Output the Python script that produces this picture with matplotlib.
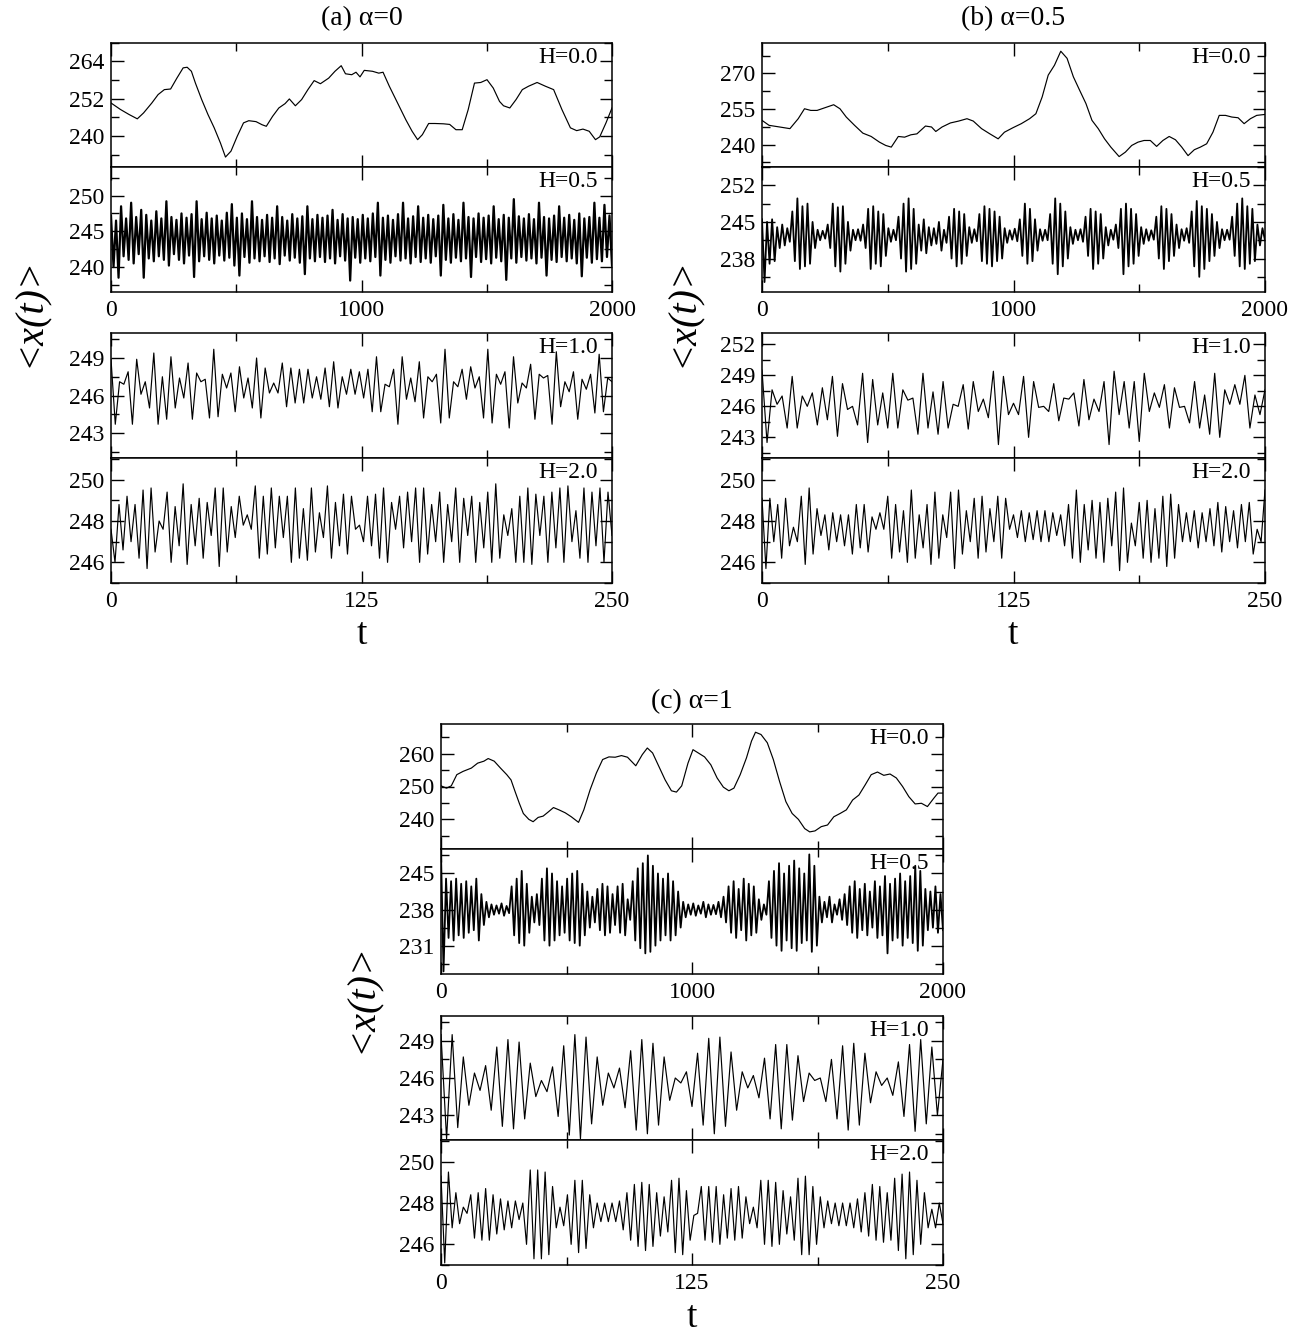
import numpy as np
import matplotlib
matplotlib.use("Agg")
import matplotlib.pyplot as plt
from matplotlib.ticker import MultipleLocator

plt.rcParams['font.family'] = ['Liberation Serif', 'DejaVu Serif']

# ---------------- data ----------------
# H = 0.0 panels, long time window 0..2000
A_H0_t = [0,38,72,105,130,163,188,213,238,263,288,304,321,337,362,387,412,437,457,479,504,529,550,579,603,620,645,670,695,712,736,761,786,811,836,869,894,919,936,961,978,994,1011,1044,1069,1086,1111,1144,1177,1202,1224,1243,1268,1293,1327,1352,1377,1402,1426,1451,1476,1501,1526,1551,1567,1592,1617,1642,1667,1701,1734,1767,1800,1834,1859,1884,1909,1934,1951,1976,2000]
A_H0_v = [250.6,248.5,246.9,245.5,247.4,250.6,253.3,254.9,255.1,258.6,261.9,262.1,260.8,257.0,251.7,246.9,242.6,237.7,233.2,235.1,239.9,244.2,244.9,244.6,243.6,243.1,246.3,249.0,250.4,251.9,249.7,251.7,254.9,257.8,256.8,258.6,260.8,262.6,260.0,259.7,260.5,259.0,261.1,260.8,260.2,260.5,256.0,250.6,245.2,241.5,238.8,240.4,244.0,244.0,243.9,243.7,242.0,242.0,248.5,257.0,257.2,258.1,255.4,251.1,249.7,249.0,251.7,254.9,256.0,257.2,256.0,254.9,248.5,242.6,241.7,242.2,241.5,238.8,239.7,244.2,249.0]

B_H0_t = [0,28,70,111,144,169,194,219,252,285,310,335,368,401,434,467,492,514,542,567,592,616,650,674,691,716,749,782,815,840,873,906,939,964,998,1031,1064,1089,1114,1138,1163,1188,1213,1238,1263,1288,1312,1337,1362,1387,1420,1445,1470,1495,1519,1544,1569,1594,1619,1644,1669,1694,1719,1743,1768,1793,1818,1843,1868,1893,1917,1942,1967,2000]
B_H0_v = [250.2,248.1,247.4,246.7,250.9,255.1,254.4,254.4,255.6,256.8,255.1,251.6,248.1,244.8,243.4,241.0,239.6,238.9,243.4,243.1,244.1,244.5,247.8,247.4,245.5,247.4,249.1,249.9,250.9,249.9,246.7,244.5,242.4,245.2,247.1,248.8,250.9,253.0,260.1,269.3,273.5,279.4,276.4,268.6,262.9,257.3,250.2,246.7,242.4,238.9,234.9,236.8,239.6,241.0,241.7,241.7,239.2,241.7,243.4,242.0,238.9,235.3,237.8,238.9,240.3,245.2,252.3,252.3,251.6,251.3,248.8,250.9,252.3,252.7]

C_H0_t = [0,22,41,63,88,121,146,171,188,212,237,262,279,295,312,328,350,367,387,407,428,448,470,495,519,548,569,594,619,644,669,694,719,743,776,802,822,843,868,893,918,938,959,984,1004,1025,1050,1075,1100,1125,1147,1167,1192,1217,1237,1253,1275,1300,1324,1349,1374,1399,1424,1449,1469,1490,1515,1540,1565,1590,1615,1640,1665,1690,1714,1739,1764,1789,1814,1839,1864,1889,1914,1938,1963,1980,2000]
C_H0_v = [250.2,249.5,250.2,253.6,254.6,255.6,257.1,257.7,258.5,257.7,255.6,253.6,252.0,248.5,244.9,241.8,240.0,239.3,240.6,241.0,242.3,243.6,242.9,242.0,240.8,239.1,242.9,249.0,254.1,258.2,259.0,258.9,259.4,258.9,256.3,259.7,261.7,260.2,256.1,252.0,248.7,248.3,250.2,257.1,261.2,260.2,259.0,256.6,252.6,249.8,248.7,249.5,253.6,258.7,263.8,266.5,265.8,263.3,258.2,251.5,245.4,241.8,240.0,237.2,236.2,236.5,237.8,238.3,240.8,241.8,242.9,245.9,247.4,250.5,253.6,254.4,253.4,253.8,252.6,250.0,246.9,244.7,244.9,243.9,246.4,248.0,248.0]

# H = 0.5 panels (successive extremes, 0..2000)
A_H05_v = [247.2,240.0,246.5,238.5,248.5,241.5,246.8,241.0,249.0,240.5,247.0,241.8,248.0,238.5,247.3,241.2,246.5,240.8,247.8,241.5,
           246.8,241.0,249.2,240.2,247.0,241.8,246.6,241.0,247.5,240.5,246.9,241.6,247.4,238.6,249.2,240.8,246.7,241.5,247.6,241.0,
           246.8,240.5,247.2,241.6,246.5,240.9,247.6,241.3,248.8,240.2,246.9,238.8,247.5,241.4,246.7,240.6,249.2,241.2,247.0,240.8,
           246.6,241.5,247.3,240.7,246.9,241.2,248.5,240.4,247.0,241.6,246.5,240.9,247.4,241.3,246.8,240.6,247.1,239.0,248.5,241.2,
           246.7,240.8,247.3,241.4,246.9,240.7,247.2,241.2,248.0,240.5,246.6,241.5,247.4,240.9,246.8,238.1,247.0,241.3,246.7,240.6,
           247.3,241.2,246.8,240.8,247.5,241.4,249.0,238.8,246.9,241.0,247.2,240.6,246.6,241.5,247.4,240.9,249.0,241.2,246.8,240.5,
           247.1,241.4,248.5,240.7,246.9,241.2,247.3,240.6,246.7,241.5,247.2,238.8,248.7,241.0,246.8,240.6,247.4,241.3,246.6,240.8,
           249.0,241.2,247.0,238.6,246.8,241.4,247.5,240.7,246.9,241.1,247.2,240.5,248.5,241.3,246.7,240.8,247.3,238.2,246.9,241.2,
           249.5,240.6,247.1,241.4,246.8,240.9,247.4,241.2,246.7,240.5,249.0,241.3,247.0,238.8,246.8,241.0,247.2,240.7,248.5,241.4,
           246.9,240.8,247.3,241.2,246.6,240.5,247.5,238.7,246.8,241.3,247.0,240.6,249.0,241.1,246.9,240.8,248.7,241.4,247.2,240.2]
B_H05_v = [245.5,233.5,245.0,237.0,245.5,237.5,244.0,240.0,244.5,240.5,243.8,241.2,247.0,237.5,249.5,236.0,248.0,236.5,248.5,237.0,
           245.0,240.0,243.5,241.5,243.3,241.8,244.5,240.0,248.5,236.5,247.8,235.5,248.0,237.0,245.0,239.5,243.5,241.5,243.6,241.4,
           244.5,240.0,247.5,236.0,248.0,237.0,247.0,236.5,246.5,238.5,243.8,241.2,243.5,241.5,246.0,238.0,248.5,235.5,249.5,236.0,
           247.5,237.0,244.5,239.5,245.5,239.0,244.0,240.5,243.8,240.8,245.0,239.5,243.5,241.0,246.0,238.0,247.5,236.5,247.0,237.0,
           246.5,238.5,244.0,241.0,243.6,241.3,246.5,237.5,248.0,237.0,247.5,236.5,247.0,237.5,246.0,238.0,243.8,241.0,243.4,241.6,
           243.7,241.3,245.5,238.5,248.5,237.0,247.5,237.5,245.5,239.5,243.6,241.4,243.5,241.5,246.5,237.0,249.5,235.0,248.5,236.5,
           247.0,238.0,244.0,240.8,243.5,241.5,243.6,241.2,246.0,238.5,247.5,236.0,247.0,237.0,246.5,238.0,244.0,240.5,243.5,241.6,
           244.5,240.0,247.5,235.0,248.5,236.5,247.5,237.0,246.5,238.5,244.0,240.8,243.6,241.4,243.4,241.6,246.0,238.0,248.0,236.0,
           247.5,237.5,246.5,238.5,244.5,240.0,243.6,241.4,243.8,241.0,247.0,236.5,249.0,234.5,248.0,236.0,247.5,237.5,246.5,238.5,
           245.0,240.0,243.6,241.5,243.5,241.6,246.0,238.5,248.5,236.5,249.5,236.0,248.0,237.0,247.5,237.5,244.5,240.5,243.8,241.5]
C_H05_v = [249.0,226.0,244.0,232.5,243.5,232.0,244.0,233.0,243.0,232.5,243.5,233.5,242.5,234.0,244.0,232.0,241.0,235.0,239.5,236.5,
           239.0,237.0,238.8,237.2,239.2,236.8,238.7,237.3,242.5,233.0,244.0,231.5,245.5,231.0,243.0,233.5,240.5,235.5,241.0,235.0,
           244.0,232.0,246.0,231.0,245.0,232.0,243.5,233.0,242.5,233.5,244.0,232.0,245.0,231.5,245.5,231.0,243.0,233.0,241.5,234.5,
           240.5,235.5,242.0,234.0,243.0,233.0,242.5,233.5,241.0,235.0,242.5,233.5,243.0,233.0,240.0,236.0,243.5,232.0,246.0,230.5,
           247.0,229.5,248.5,229.8,246.5,231.0,245.0,232.0,244.0,233.0,245.0,232.0,243.5,233.0,241.5,234.5,239.5,236.5,239.0,237.0,
           239.2,236.8,238.8,237.2,239.5,236.5,239.0,237.0,238.9,237.1,239.5,236.5,240.5,235.5,242.5,233.5,243.5,232.5,242.0,234.0,
           244.0,232.0,243.0,233.0,242.5,233.5,240.0,236.0,239.0,237.0,243.5,232.5,245.5,231.0,247.0,230.0,245.0,232.0,246.5,230.5,
           247.5,230.0,246.0,231.5,245.0,232.0,248.7,229.8,246.5,231.0,240.5,235.5,239.5,236.5,240.5,235.5,239.0,237.0,240.0,236.0,
           241.0,235.0,242.5,233.5,243.5,232.5,242.0,234.0,243.0,233.0,241.5,234.5,243.5,232.5,242.5,233.0,244.5,229.5,243.0,232.0,
           244.0,232.5,245.0,231.0,243.5,232.5,244.5,231.5,246.5,230.0,245.5,231.0,242.0,234.0,241.5,234.5,242.5,233.5,241.0,234.0]

# H = 1.0 panels (successive extremes, 0..250)
A_H1_v = [248.9,243.7,247.1,246.9,247.9,243.7,248.9,246.1,247.1,245.0,249.4,243.7,247.5,244.1,249.1,245.0,247.4,245.8,248.6,244.1,
          247.8,247.1,247.3,244.2,249.7,244.3,247.7,246.6,247.8,244.7,248.3,245.8,247.4,245.0,249.0,244.2,248.2,246.2,247.0,246.2,
          248.6,245.1,248.2,245.4,248.1,245.4,248.1,245.8,247.5,245.7,248.2,245.1,248.7,245.0,247.5,246.1,248.1,246.1,247.9,
          245.8,248.1,244.7,249.1,244.7,246.9,246.7,248.1,243.7,249.1,245.7,247.4,245.5,248.7,244.2,247.5,247.1,247.7,243.8,249.7,
          244.2,247.1,246.7,248.1,245.7,248.3,246.6,247.5,244.2,249.7,243.8,247.7,246.9,247.9,243.4,249.1,245.4,247.0,246.6,248.5,
          244.1,247.7,247.4,247.6,243.7,249.5,245.1,247.1,246.3,247.9,244.1,247.3,246.5,247.7,244.6,249.3,244.7,247.4,247.1]
B_H1_v = [249.5,242.5,247.6,246.2,247.0,243.9,248.9,243.9,247.0,246.0,247.3,244.2,247.8,244.7,248.9,243.1,248.2,245.7,246.0,244.2,
          249.2,242.5,248.6,244.2,247.3,243.9,249.2,243.9,247.6,246.6,246.8,243.3,249.2,243.9,247.4,243.3,248.4,243.9,246.2,246.0,
          248.1,243.8,248.4,245.5,246.7,244.9,249.4,242.3,248.9,245.2,246.3,
          245.2,248.9,243.0,248.4,245.9,246.0,245.5,248.2,244.6,246.8,246.7,247.3,244.1,248.6,244.7,246.7,245.5,248.4,242.3,249.4,
          245.2,248.4,243.9,248.4,242.6,249.2,245.5,247.3,245.9,248.1,243.9,247.8,245.9,246.0,244.4,248.4,243.9,247.1,243.3,249.2,
          243.0,247.6,246.2,248.1,246.2,249.0,243.9,247.1,245.2,247.6]
C_H1_v = [249.5,241.1,249.5,242.0,247.7,243.8,246.4,245.0,247.0,243.4,248.5,242.1,249.1,241.9,248.9,242.7,247.2,244.5,245.8,244.9,
          246.9,242.9,248.6,241.4,249.5,241.1,249.3,242.3,247.7,243.8,246.4,245.2,246.8,243.6,248.2,241.8,249.1,241.5,248.8,242.2,
          247.7,244.2,246.0,245.6,246.5,243.7,248.0,242.2,249.2,241.5,249.3,242.1,248.1,243.4,246.5,245.2,246.2,244.4,247.6,242.7,
          248.7,241.9,248.7,242.6,247.8,244.1,246.4,245.8,246.0,244.1,247.5,242.7,248.6,241.8,248.8,242.2,248.0,244.0,246.5,245.4,
          246.0,244.6,247.3,242.9,248.7,241.7,249.1,242.3,248.5,243.0,247.5]

# H = 2.0 panels (successive extremes, 0..250)
A_H2_v = [247.6,246.0,248.8,246.6,249.2,247.0,248.8,246.2,249.5,245.7,249.6,246.5,248.0,247.6,249.4,246.0,248.7,246.8,249.8,245.9,
          248.8,246.8,249.1,246.2,248.9,247.3,249.6,245.8,249.6,246.5,248.7,247.2,249.2,247.8,248.3,247.6,249.7,246.2,249.2,246.4,
          249.6,246.7,249.2,247.2,249.2,246.0,249.6,246.2,248.6,246.1,249.6,246.5,248.4,247.2,249.7,246.2,248.9,246.8,249.3,246.4,
          249.2,247.6,247.8,247.0,249.2,
          246.8,249.3,246.2,249.6,246.0,248.9,247.6,249.2,246.7,249.4,247.0,249.6,246.0,249.6,246.4,248.8,247.0,249.4,246.0,248.8,
          247.0,249.6,246.0,249.1,247.3,249.2,246.0,248.9,246.7,249.4,246.0,249.8,246.2,248.3,247.3,248.6,246.0,249.2,246.0,249.6,
          245.9,249.3,247.3,249.2,246.0,249.4,246.7,249.6,246.0,249.7,247.0,248.5,246.2,249.6,246.0,249.4,246.8,249.6,246.0,249.4,
          247.3]
B_H2_v = [249.1,245.7,249.1,247.0,248.8,246.2,249.1,246.8,247.7,247.0,249.2,245.9,249.6,246.4,248.6,247.3,248.3,246.6,248.4,247.0,
          248.3,246.8,248.3,246.4,248.8,246.7,248.8,246.5,248.2,247.6,248.4,247.6,249.2,246.2,248.8,246.5,248.5,246.0,249.5,246.2,
          248.3,246.7,248.8,245.9,249.4,246.2,248.3,247.2,249.4,245.7,249.5,246.4,248.5,247.0,249.1,246.2,249.2,246.5,248.6,247.0,
          249.2,246.2,249.1,247.6,248.3,
          247.2,248.5,247.0,248.4,247.1,248.5,247.0,248.5,247.0,248.4,247.3,248.3,246.8,248.8,246.2,249.5,246.0,248.8,246.6,249.0,
          246.2,248.9,246.0,249.1,246.8,249.4,245.6,249.6,246.0,247.9,246.8,248.9,246.2,249.0,246.0,248.6,246.2,249.2,245.8,249.3,
          246.2,248.8,247.0,248.4,247.0,248.5,246.7,248.4,247.0,248.6,246.8,248.9,246.5,248.7,247.0,248.5,246.7,248.8,247.0,248.9,
          246.4,247.6,247.0,249.5]
C_H2_v = [249.3,245.1,249.5,246.8,248.5,247.0,247.8,247.5,248.4,246.3,248.5,246.2,248.7,246.2,248.4,246.5,248.2,246.7,248.1,246.8,
          248.1,247.2,248.0,246.0,249.6,245.3,249.6,245.3,249.5,245.5,248.8,246.8,247.8,246.9,248.4,246.0,249.1,245.6,249.1,245.8,
          248.4,246.8,248.0,247.1,248.0,247.1,248.0,247.1,248.1,246.7,248.5,246.2,248.9,245.9,249.0,245.7,248.9,245.9,248.5,246.4,
          248.3,246.6,249.1,245.6,249.2,245.5,248.6,246.2,247.4,247.5,
          248.8,246.2,248.8,246.1,248.8,246.0,248.4,246.3,248.7,246.2,248.8,246.3,248.3,247.0,247.8,246.8,249.1,246.0,249.1,245.9,
          249.0,246.0,248.6,246.5,248.3,246.2,249.2,245.5,249.3,245.5,248.8,246.0,248.3,246.8,248.1,247.0,248.0,246.9,248.0,246.9,
          248.0,246.8,248.2,246.6,248.5,246.4,248.9,246.2,248.8,246.1,248.5,246.2,249.2,245.7,249.4,245.3,249.5,245.5,249.1,246.0,
          248.5,246.8,247.7,246.8,248.0,247.0]

# ---------------- layout helpers ----------------
W, H = 1299, 1335
fig = plt.figure(figsize=(W / 100, H / 100), dpi=100)

TICK_FS = 17
HLAB_FS = 17


def make_ax(left, top, bottom, width):
    return fig.add_axes([left / W, 1 - bottom / H, width / W, (bottom - top) / H])


def style(ax, xmax, xmaj, ylim, ymaj, label, show_x):
    ax.set_xlim(0, xmax)
    ax.set_ylim(*ylim)
    ax.xaxis.set_major_locator(MultipleLocator(xmaj))
    ax.xaxis.set_minor_locator(MultipleLocator(xmaj / 2))
    ax.yaxis.set_major_locator(MultipleLocator(ymaj))
    ax.yaxis.set_minor_locator(MultipleLocator(ymaj / 2))
    ax.tick_params(which='both', direction='in', top=True, right=True,
                   labelsize=TICK_FS, width=1.0)
    ax.tick_params(which='major', length=9)
    ax.tick_params(which='minor', length=5.5)
    ax.tick_params(axis='x', pad=6)
    ax.tick_params(axis='y', pad=5)
    if not show_x:
        ax.tick_params(axis='x', labelbottom=False)
    for s in ax.spines.values():
        s.set_linewidth(1.1)
    ax.annotate(label, xy=(1, 1), xycoords='axes fraction', xytext=(-14, -4),
                textcoords='offset pixels', ha='right', va='top', fontsize=HLAB_FS)


def column(left, width, tops, series, specs, lws):
    labels = ['H=0.0', 'H=0.5', 'H=1.0', 'H=2.0']
    for k in range(4):
        ax = make_ax(left, tops[2 * k], tops[2 * k + 1], width)
        t, v = series[k]
        ax.plot(t, v, color='black', lw=lws[k])
        xmax = 2000 if k < 2 else 250
        xmaj = 1000 if k < 2 else 125
        ylim, ymaj = specs[k]
        style(ax, xmax, xmaj, ylim, ymaj, labels[k], show_x=(k in (1, 3)))


def long_t(v):
    return np.linspace(0, 2000, len(v))


def short_t(v):
    return np.linspace(0, 250, len(v))


# (a) alpha = 0
column(111, 501, (42.7, 167, 167, 292, 333, 458, 458, 583),
       [(A_H0_t, A_H0_v), (long_t(A_H05_v), A_H05_v),
        (short_t(A_H1_v), A_H1_v), (short_t(A_H2_v), A_H2_v)],
       [((230, 270), 12), ((236.5, 254), 5), ((241, 251), 3), ((245, 251.05), 2)],
       [0.85, 1.6, 0.85, 0.85])

# (b) alpha = 0.5
column(762, 503, (42.7, 167, 167, 292, 333, 458, 458, 583),
       [(B_H0_t, B_H0_v), (long_t(B_H05_v), B_H05_v),
        (short_t(B_H1_v), B_H1_v), (short_t(B_H2_v), B_H2_v)],
       [((230.5, 283), 15), ((231.6, 255.5), 7), ((241, 253.1), 3), ((245, 251.05), 2)],
       [0.85, 1.3, 0.85, 0.85])

# (c) alpha = 1
column(441, 502, (724, 849, 849, 974, 1016, 1140, 1140, 1265),
       [(C_H0_t, C_H0_v), (long_t(C_H05_v), C_H05_v),
        (short_t(C_H1_v), C_H1_v), (short_t(C_H2_v), C_H2_v)],
       [((231, 269), 10), ((225.5, 249.75), 7), ((241, 251), 3), ((245, 251.05), 2)],
       [0.85, 1.3, 0.85, 0.85])

# titles, axis labels
TITLE_FS = 20
fig.text(362 / W, 1 - 19 / H, '(a) α=0', ha='center', va='center', fontsize=TITLE_FS)
fig.text(1013 / W, 1 - 19 / H, '(b) α=0.5', ha='center', va='center', fontsize=TITLE_FS)
fig.text(692 / W, 1 - 702 / H, '(c) α=1', ha='center', va='center', fontsize=TITLE_FS)

LBL_FS = 29
for (x, y) in [(30, 312), (683, 312), (362, 998)]:
    fig.text(x / W, 1 - y / H, '<x(t)>', rotation=90, ha='center', va='center',
             fontsize=LBL_FS, style='italic')
for (x, y) in [(362, 635), (1013, 635), (692, 1318)]:
    fig.text(x / W, 1 - y / H, 't', ha='center', va='center', fontsize=27)

fig.savefig('out.png', dpi=100)
